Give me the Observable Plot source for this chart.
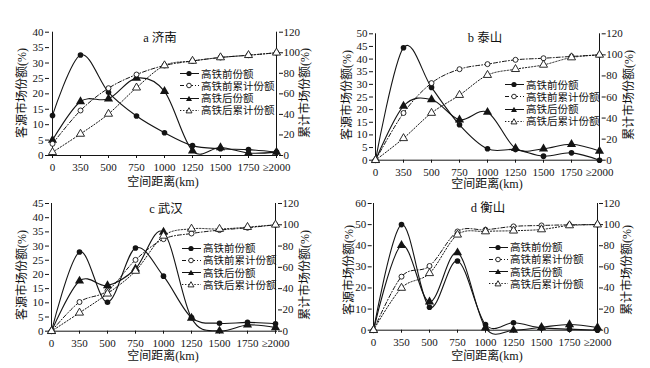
<!DOCTYPE html>
<html><head><meta charset="utf-8">
<script src="https://cdn.jsdelivr.net/npm/d3@7"></script>
<script src="https://cdn.jsdelivr.net/npm/@observablehq/plot@0.6"></script>
<style>
body{margin:0;background:#fff}
#chart{position:relative;width:650px;height:368px;overflow:hidden;background:#fff;color:#111;font-family:"Liberation Serif","Noto Sans CJK SC",serif}
.panel{position:absolute;width:325px;height:184px}
.panel svg{position:absolute;left:0;top:0}
.lbl{position:absolute;white-space:nowrap;font-size:12px;line-height:12px;transform:translate(-50%,-50%)}
.vlbl{position:absolute;white-space:nowrap;font-size:12px;line-height:12px;transform:translate(-50%,-50%) rotate(-90deg)}
.ttl{position:absolute;white-space:nowrap;font-size:12.5px;line-height:13px;transform:translate(-50%,-50%)}
.leg{position:absolute;font-size:10.5px;line-height:11px}
.legrow{position:absolute;white-space:nowrap;display:flex;align-items:center;transform:translateY(-50%)}
.cjk{font-family:"Liberation Serif","Noto Sans CJK SC",serif;font-weight:400}
</style></head><body><div id="chart"></div>
<script>
// ---- data ----
const distances = ["0","350","500","750","1000","1250","1500","1750","≥2000"];
const panelTitles = ["a 济南","b 泰山","c 武汉","d 衡山"];
const seriesNames = ["高铁前份额","高铁前累计份额","高铁后份额","高铁后累计份额"];
const leftAxisMax = [40, 50, 45, 60];
const leftAxisStep = [5, 5, 5, 10];
const rightAxisTicks = [0, 20, 40, 60, 80, 100, 120];
const xAxisTitle = "空间距离(km)";
const leftAxisTitle = "客源市场份额(%)";
const rightAxisTitle = "累计市场份额(%)";

const jinanBefore    = [13, 32.6, 20.5, 12.8, 7.4, 3.2, 2.2, 1.9, 1.1];
const jinanBeforeCum = [11.4, 43.8, 65.5, 78.8, 87.6, 92, 95.4, 97.6, 100];
const jinanAfter     = [5, 17.5, 18.4, 25.1, 20.8, 1.5, 2.6, 0.8, 1.1];
const jinanAfterCum  = [3.2, 21, 40.5, 66, 87.6, 92, 95.4, 97.6, 100];

const taishanBefore    = [0, 44.5, 28.8, 14, 4.5, 4.2, 1.6, 2.9, 0];
const taishanBeforeCum = [0, 44.8, 73.2, 86.4, 91.2, 95.3, 96.8, 98.5, 100];
const taishanAfter     = [0, 21.4, 24, 16, 19, 4.7, 4.5, 6.3, 3.6];
const taishanAfterCum  = [0, 20.8, 44.8, 61.8, 80.8, 86.4, 90.5, 97.5, 100];

const wuhanBefore    = [0, 27.9, 10.2, 29.3, 19.4, 4.8, 2.8, 3.1, 2.6];
const wuhanBeforeCum = [0, 27.4, 38, 67, 86.5, 91.8, 95, 97.2, 100];
const wuhanAfter     = [0, 17.7, 16.1, 22, 34.9, 4.6, 0.1, 2.2, 1.3];
const wuhanAfterCum  = [0, 17.3, 35.2, 56.6, 89.6, 96.2, 96, 97.8, 100];

const hengshanBefore    = [0, 50, 10.9, 32.8, 2.7, 3.5, 1.1, 0.5, 0];
const hengshanBeforeCum = [0, 50.7, 60.8, 93.5, 95.1, 98.3, 99.2, 99.8, 100];
const hengshanAfter     = [0, 40.2, 13.4, 36.7, 1.1, 0, 1.4, 2.7, 1.3];
const hengshanAfterCum  = [0, 40, 53.9, 90.4, 93.5, 94.2, 95.4, 99.2, 100];

// ---- layout ----
const panels = [
  {data:[jinanBefore,jinanBeforeCum,jinanAfter,jinanAfterCum], left:0, top:0, mL:49, mR:47, mT:31.7, mB:29,
   title:[160,38], xl:[163,182], yl:[22,93], yr:[305,93], legX:180, legTop:73.5},
  {data:[taishanBefore,taishanBeforeCum,taishanAfter,taishanAfterCum], left:325, top:0, mL:48, mR:49.3, mT:33.3, mB:24.3,
   title:[485,38], xl:[487,184], yl:[347,95], yr:[629,95], legX:505, legTop:84.5},
  {data:[wuhanBefore,wuhanBeforeCum,wuhanAfter,wuhanAfterCum], left:0, top:184, mL:49, mR:48, mT:19, mB:37.3,
   title:[166,209], xl:[163,356], yl:[22,275], yr:[305,275], legX:182, legTop:248},
  {data:[hengshanBefore,hengshanBeforeCum,hengshanAfter,hengshanAfterCum], left:325, top:184, mL:46.7, mR:52, mT:19, mB:38.3,
   title:[488,208], xl:[487,356], yl:[349,270], yr:[627,270], legX:489, legTop:247}
];
const legGap = 12.3;

const INK = "#141414";
const dashDot = "4,2,1,2";
const dotted = "1.3,1.8";
const chart = document.getElementById("chart");

panels.forEach((p, k) => {
  const [before, beforeCum, after, afterCum] = p.data;
  const rows = distances.map((d, i) => ({d, before: before[i], beforeCum: beforeCum[i], after: after[i], afterCum: afterCum[i]}));
  const common = {
    width: 325, height: 184,
    marginLeft: p.mL, marginRight: p.mR, marginTop: p.mT, marginBottom: p.mB,
    style: {background: "transparent", overflow: "visible", fontFamily: "Liberation Serif, serif", fontSize: "11px", color: INK}
  };
  const max = leftAxisMax[k], step = leftAxisStep[k];
  const shares = Plot.plot({
    ...common,
    x: {type: "point", domain: distances, padding: 0},
    y: {domain: [0, max]},
    marks: [
      Plot.axisY({anchor: "left", ticks: d3.range(0, max + 0.001, step), tickSize: 4, tickPadding: 2, label: null}),
      Plot.axisX({anchor: "bottom", tickSize: 3, tickPadding: 4.5, label: null}),
      Plot.ruleX([distances[0]], {stroke: INK}),
      Plot.ruleY([0], {stroke: INK}),
      Plot.line(rows, {x: "d", y: "before", curve: "cardinal", stroke: INK, strokeWidth: 1.1}),
      Plot.line(rows, {x: "d", y: "after", curve: "cardinal", stroke: INK, strokeWidth: 1.1}),
      Plot.dot(rows, {x: "d", y: "before", symbol: "circle", r: 2.8, fill: INK, stroke: null}),
      Plot.dot(rows, {x: "d", y: "after", symbol: "triangle", r: 3.4, fill: INK, stroke: null})
    ]
  });
  const cum = Plot.plot({
    ...common,
    x: {type: "point", domain: distances, padding: 0, axis: null},
    y: {domain: [0, 120]},
    marks: [
      Plot.axisY({anchor: "right", ticks: rightAxisTicks, tickSize: 4, tickPadding: 1, label: null}),
      Plot.ruleX([distances[distances.length - 1]], {stroke: INK}),
      Plot.line(rows, {x: "d", y: "beforeCum", curve: "cardinal", stroke: INK, strokeWidth: 1, strokeDasharray: dashDot}),
      Plot.line(rows, {x: "d", y: "afterCum", curve: "cardinal", stroke: INK, strokeWidth: 1, strokeDasharray: dotted}),
      Plot.dot(rows, {x: "d", y: "beforeCum", symbol: "circle", r: 2.5, fill: "white", stroke: INK, strokeWidth: 0.9}),
      Plot.dot(rows, {x: "d", y: "afterCum", symbol: "triangle", r: 3, fill: "white", stroke: INK, strokeWidth: 0.9})
    ]
  });
  const div = document.createElement("div");
  div.className = "panel";
  div.style.left = p.left + "px";
  div.style.top = p.top + "px";
  div.appendChild(shares);
  div.appendChild(cum);
  chart.appendChild(div);

  const addText = (cls, txt, xy, html) => {
    const e = document.createElement("div");
    e.className = cls;
    e.style.left = xy[0] + "px";
    e.style.top = xy[1] + "px";
    if (html) e.innerHTML = html; else e.textContent = txt;
    chart.appendChild(e);
  };
  const t = panelTitles[k];
  addText("ttl", null, p.title, `<span>${t[0]}</span> <span class="cjk">${t.slice(2)}</span>`);
  addText("lbl", null, p.xl, `<span class="cjk">${xAxisTitle.replace("(km)", "")}</span><span>(km)</span>`);
  addText("vlbl cjk", leftAxisTitle, p.yl);
  addText("vlbl cjk", rightAxisTitle, p.yr);

  // legend
  const styles = [
    {dash: null, mark: `<circle cx="9" cy="5" r="2.6" fill="${INK}"/>`},
    {dash: dashDot, mark: `<circle cx="9" cy="5" r="2.3" fill="white" stroke="${INK}" stroke-width="0.9"/>`},
    {dash: null, mark: `<path d="M9,2.2L12,7.4L6,7.4Z" fill="${INK}"/>`},
    {dash: dotted, mark: `<path d="M9,2.2L12,7.4L6,7.4Z" fill="white" stroke="${INK}" stroke-width="0.9"/>`}
  ];
  seriesNames.forEach((name, j) => {
    const r = document.createElement("div");
    r.className = "legrow leg";
    r.style.left = p.legX + "px";
    r.style.top = (p.legTop + j * legGap) + "px";
    const s = styles[j];
    r.innerHTML = `<svg width="19" height="10" style="margin-right:2px"><line x1="0" x2="19" y1="5" y2="5" stroke="${INK}" stroke-width="1" ${s.dash ? `stroke-dasharray="${s.dash}"` : ""}/>${s.mark}</svg><span class="cjk">${name}</span>`;
    chart.appendChild(r);
  });
});
</script></body></html>
